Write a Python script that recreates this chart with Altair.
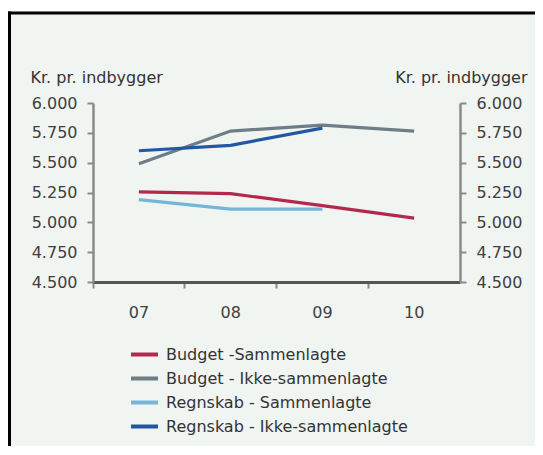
import altair as alt
import pandas as pd

years = ["07", "08", "09", "10"]
series_names = [
    "Budget -Sammenlagte",
    "Budget - Ikke-sammenlagte",
    "Regnskab - Sammenlagte",
    "Regnskab - Ikke-sammenlagte",
]
budget_sam = [5255, 5240, 5140, 5035]
budget_ikke = [5490, 5765, 5815, 5765]
regnskab_sam = [5190, 5110, 5110]
regnskab_ikke = [5600, 5645, 5790]
colors = ["#b3294e", "#6f7d86", "#74b6d8", "#2456a3"]
y_ticks = [4500, 4750, 5000, 5250, 5500, 5750, 6000]

rows = []
for name, vals in zip(series_names, [budget_sam, budget_ikke, regnskab_sam, regnskab_ikke]):
    for yr, v in zip(years, vals):
        rows.append({"aar": yr, "serie": name, "vaerdi": v})
df = pd.DataFrame(rows)

FONT = "DejaVu Sans"
label_expr = "replace(format(datum.value, ','), ',', '.')"

xscale = alt.Scale(type="band", domain=years, paddingInner=0, paddingOuter=0)
yscale = alt.Scale(domain=[4500, 6000], nice=False, zero=False)

one = pd.DataFrame({"a": [0]})
panel = alt.Chart(one).mark_rect(fill="#f0f5f2").encode(
    x=alt.value(-83.5), x2=alt.value(460), y=alt.value(-90), y2=alt.value(360)
)
border_left = alt.Chart(one).mark_rule(color="#000000", strokeWidth=3).encode(
    x=alt.value(-83.5), y=alt.value(-91.5), y2=alt.value(360)
)
border_top = alt.Chart(one).mark_rule(color="#000000", strokeWidth=3).encode(
    x=alt.value(-85), x2=alt.value(460), y=alt.value(-90)
)

lines = alt.Chart(df).mark_line(strokeWidth=3.2).encode(
    x=alt.X("aar:N", scale=xscale, bandPosition=0.5,
            axis=alt.Axis(orient="bottom", bandPosition=0, labels=False, title=None,
                          domainColor="#555555", domainWidth=3, tickColor="#888888",
                          tickWidth=2, tickSize=6, zindex=1)),
    y=alt.Y("vaerdi:Q", scale=yscale,
            axis=alt.Axis(orient="left", values=y_ticks, labelExpr=label_expr,
                          title="Kr. pr. indbygger", titleAngle=0, titleAlign="left",
                          titleBaseline="alphabetic", titleX=-63, titleY=-21,
                          titleFont=FONT, titleFontSize=16, titleFontWeight="normal",
                          titleColor="#333333", labelFont=FONT, labelFontSize=16,
                          labelColor="#404040", labelPadding=10, domainColor="#8a8a8a",
                          domainWidth=2.5, tickColor="#8a8a8a", tickWidth=2, tickSize=6,
                          grid=False, zindex=1)),
    color=alt.Color("serie:N", scale=alt.Scale(domain=series_names, range=colors),
                    legend=alt.Legend(orient="none", legendX=36, legendY=236, title=None,
                                      direction="vertical", symbolType="stroke",
                                      symbolStrokeWidth=4, symbolSize=729,
                                      labelFont=FONT, labelFontSize=16, labelLimit=400,
                                      labelColor="#333333", labelOffset=6, rowPadding=0)),
    order=alt.Order("aar:N"),
)

ghost = alt.Chart(df).mark_point(opacity=0).encode(
    x=alt.X("aar:N", scale=xscale, bandPosition=0.5,
            axis=alt.Axis(orient="bottom", bandPosition=0.5, ticks=False, tickSize=0,
                          domain=False, title=None, labelAngle=0, labelFont=FONT,
                          labelFontSize=16, labelColor="#404040", labelPadding=22,
                          zindex=1)),
    y=alt.Y("vaerdi:Q", scale=yscale,
            axis=alt.Axis(orient="right", values=y_ticks, labelExpr=label_expr,
                          title="Kr. pr. indbygger", titleAngle=0, titleAlign="right",
                          titleBaseline="alphabetic", titleX=67, titleY=-21,
                          titleFont=FONT, titleFontSize=16, titleFontWeight="normal",
                          titleColor="#333333", labelFont=FONT, labelFontSize=16,
                          labelColor="#404040", labelPadding=10, domainColor="#8a8a8a",
                          domainWidth=2.5, tickColor="#8a8a8a", tickWidth=2, tickSize=6,
                          grid=False, zindex=1)),
)

chart = alt.layer(panel, border_left, border_top, lines, ghost).resolve_axis(
    x="independent", y="independent"
).properties(
    width=367,
    height=179,
    padding={"left": 85, "top": 95, "right": 75, "bottom": 164},
    autosize=alt.AutoSizeParams(type="none"),
    background="#ffffff",
).configure_view(stroke=None)

chart.save("out.html", embed_options={"renderer": "svg", "actions": False})
